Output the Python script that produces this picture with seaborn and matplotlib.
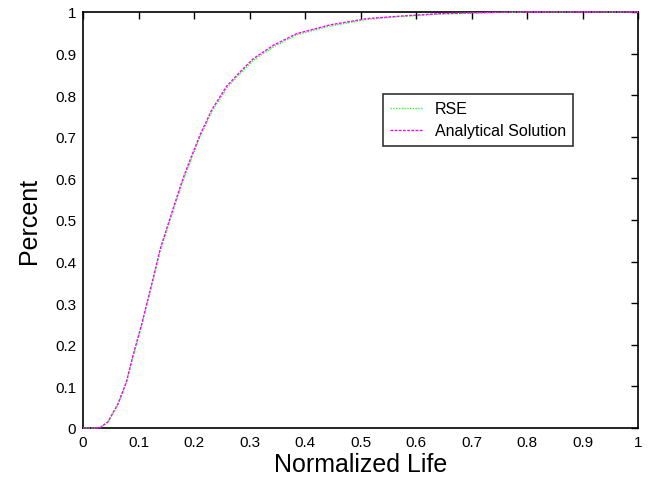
import numpy as np
import pandas as pd
import matplotlib
matplotlib.use("Agg")
import matplotlib.pyplot as plt
import seaborn as sns
from matplotlib.ticker import FormatStrFormatter, MultipleLocator

# valores
life = [0, 0.030, 0.045, 0.063, 0.078, 0.090, 0.105, 0.114, 0.126, 0.139, 0.163,
        0.181, 0.196, 0.211, 0.232, 0.259, 0.283, 0.307, 0.343, 0.385, 0.445,
        0.511, 0.571, 0.643, 0.733, 0.800, 1.0]
analytical = [0, 0, 0.015, 0.058, 0.110, 0.174, 0.246, 0.294, 0.358, 0.430, 0.530,
              0.603, 0.655, 0.705, 0.765, 0.822, 0.856, 0.888, 0.920, 0.948, 0.969,
              0.984, 0.990, 0.996, 0.999, 1.0, 1.0]
rse = [0, 0, 0.014, 0.056, 0.108, 0.171, 0.242, 0.290, 0.353, 0.425, 0.525,
       0.598, 0.650, 0.700, 0.760, 0.817, 0.852, 0.884, 0.916, 0.945, 0.966,
       0.982, 0.989, 0.995, 0.998, 1.0, 1.0]

df = pd.DataFrame({"life": life, "Analytical Solution": analytical, "RSE": rse})

sns.set_style("white")
plt.rcParams['font.family'] = ['Liberation Sans', 'DejaVu Sans']
plt.rcParams['text.color'] = 'black'
plt.rcParams['axes.labelcolor'] = 'black'

fig = plt.figure(figsize=(6.63, 4.85), dpi=100)
ax = fig.add_axes([0.1252, 0.1155, 0.8371, 0.8577])

sns.lineplot(data=df, x="life", y="RSE", ax=ax, color="#33ff33", lw=1.0,
             linestyle=(0, (1, 1)), label="RSE", zorder=3, clip_on=False)
sns.lineplot(data=df, x="life", y="Analytical Solution", ax=ax, color="#ff00ff",
             lw=1.0, linestyle=(0, (2, 1)), label="Analytical Solution",
             zorder=3, clip_on=False)

ax.set_xlim(0, 1)
ax.set_ylim(0, 1)
ax.xaxis.set_major_locator(MultipleLocator(0.1))
ax.yaxis.set_major_locator(MultipleLocator(0.1))
ax.xaxis.set_major_formatter(FormatStrFormatter('%g'))
ax.yaxis.set_major_formatter(FormatStrFormatter('%g'))
ax.tick_params(direction="in", top=True, right=True, length=5, width=1,
               labelsize=11, color="black", labelcolor="black", pad=5)
for s in ax.spines.values():
    s.set_color("black")
    s.set_linewidth(1.2)

ax.set_xlabel("Normalized Life", fontsize=18, labelpad=2, color="black")
ax.set_ylabel("Percent", fontsize=18, labelpad=10, color="black")

leg = ax.legend(loc="upper left", bbox_to_anchor=(0.5405, 0.803), fontsize=11.5,
                frameon=True, fancybox=False, handlelength=2.0, borderpad=0.45,
                labelspacing=0.45, handletextpad=0.8, borderaxespad=0)
leg.get_frame().set_edgecolor("black")
leg.get_frame().set_linewidth(1.2)
for t in leg.get_texts():
    t.set_color("black")

fig.savefig("out.png", dpi=100)
